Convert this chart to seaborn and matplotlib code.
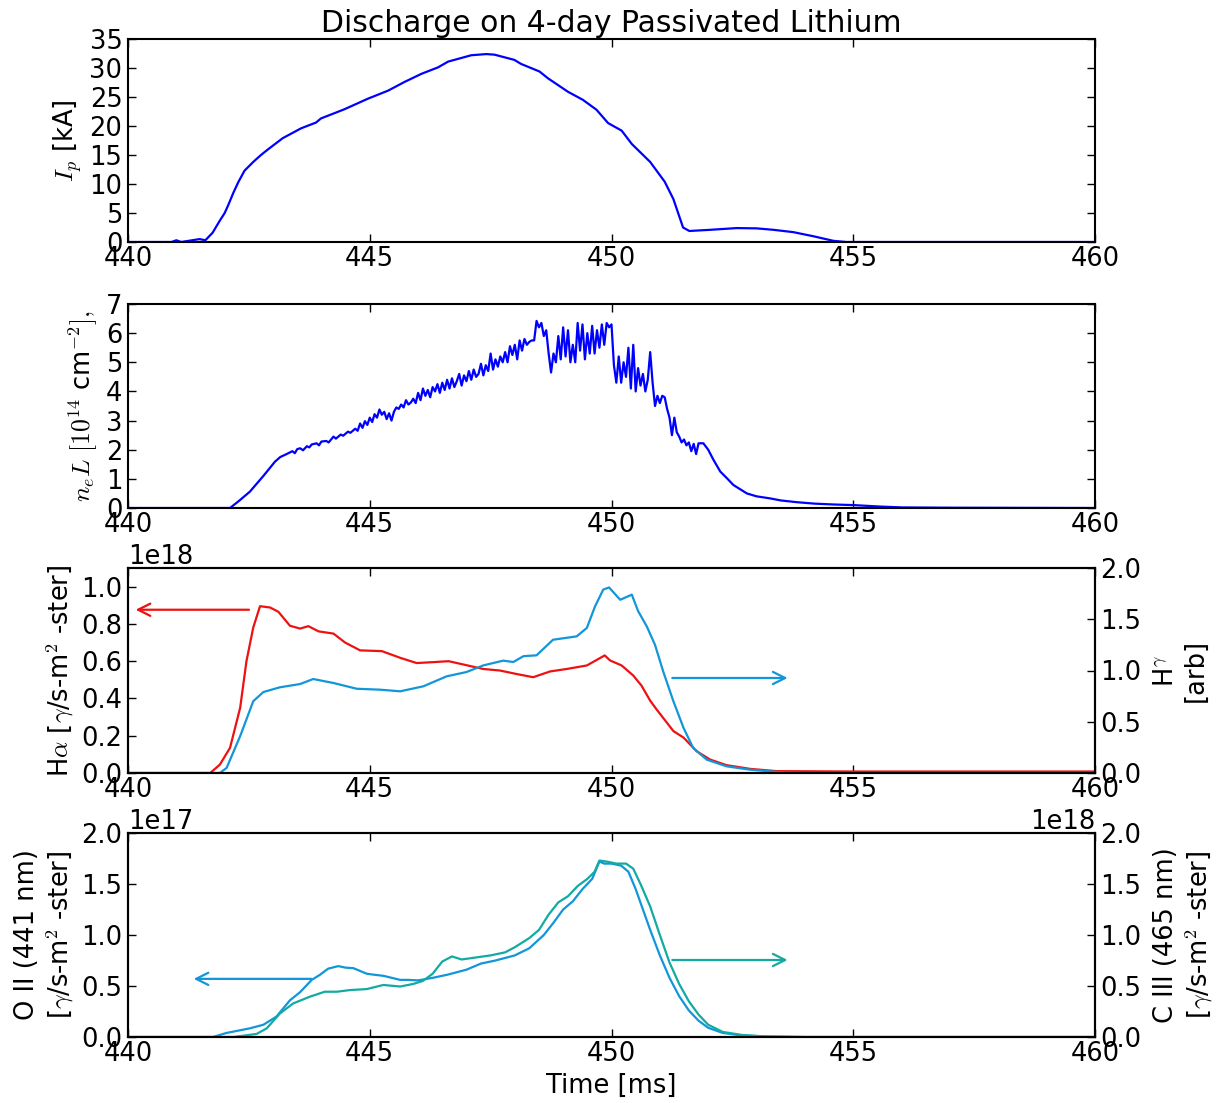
import numpy as np
import pandas as pd
import matplotlib
matplotlib.use("Agg")
import matplotlib.pyplot as plt
import seaborn as sns

# ---------------- data ----------------
t_ip = [440.0, 440.9, 441.0, 441.1, 441.48, 441.6, 441.75, 441.9, 442.0, 442.07, 442.18, 442.28,
        442.41, 442.59, 442.75, 442.9, 443.2, 443.58, 443.89, 443.99, 444.48, 444.96, 445.38,
        445.72, 446.07, 446.41, 446.62, 447.1, 447.41, 447.58, 447.99, 448.13, 448.51, 448.69,
        449.1, 449.41, 449.69, 449.93, 450.21, 450.42, 450.8, 451.1, 451.28, 451.48, 451.61,
        452.04, 452.59, 453.0, 453.35, 453.76, 454.17, 454.59, 454.86, 460.0]
ip = [0.0, 0.0, 0.3, 0.0, 0.5, 0.3, 1.6, 3.7, 5.0, 6.3, 8.5, 10.3,
      12.3, 13.8, 15.0, 16.0, 17.9, 19.6, 20.6, 21.3, 22.9, 24.7, 26.1,
      27.6, 29.0, 30.1, 31.1, 32.2, 32.4, 32.3, 31.4, 30.7, 29.4, 28.2,
      25.9, 24.5, 22.8, 20.5, 19.2, 16.9, 13.8, 10.4, 7.4, 2.5, 1.9,
      2.1, 2.4, 2.35, 2.1, 1.7, 1.0, 0.2, 0.0, 0.0]

t_ne = [440.0, 442.11, 442.3, 442.52, 442.8, 443.04, 443.15, 443.28, 443.4, 443.45, 443.5, 443.56,
        443.62, 443.7, 443.75, 443.8, 443.9, 443.95, 444.0, 444.1, 444.15, 444.25, 444.3, 444.4,
        444.45, 444.55, 444.6, 444.7, 444.75, 444.8, 444.85, 444.9, 444.95, 445.0, 445.05, 445.1,
        445.15, 445.2, 445.25, 445.3, 445.35, 445.4, 445.45, 445.5, 445.55, 445.6, 445.65, 445.7,
        445.75, 445.8, 445.85, 445.9, 445.95, 446.0, 446.05, 446.1, 446.15, 446.2, 446.25, 446.3,
        446.35, 446.4, 446.45, 446.5, 446.55, 446.6, 446.65, 446.7, 446.75, 446.8, 446.85, 446.9,
        446.95, 447.0, 447.05, 447.1, 447.15, 447.2, 447.25, 447.3, 447.35, 447.4, 447.45, 447.5,
        447.55, 447.6, 447.65, 447.7, 447.75, 447.8, 447.85, 447.9, 447.95, 448.0, 448.05, 448.1,
        448.15, 448.2, 448.25, 448.3, 448.35, 448.4, 448.45, 448.5, 448.55, 448.6, 448.65, 448.7,
        448.75, 448.8, 448.85, 448.9, 448.95, 449.0, 449.05, 449.1, 449.15, 449.2, 449.25, 449.3,
        449.35, 449.4, 449.45, 449.5, 449.55, 449.6, 449.65, 449.7, 449.75, 449.8, 449.85, 449.9,
        449.95, 450.0, 450.05, 450.1, 450.15, 450.2, 450.25, 450.3, 450.35, 450.4, 450.45, 450.5,
        450.55, 450.6, 450.65, 450.7, 450.75, 450.8, 450.85, 450.9, 450.95, 451.0, 451.05, 451.1,
        451.15, 451.2, 451.25, 451.3, 451.35, 451.4, 451.45, 451.5, 451.55, 451.6, 451.65, 451.7,
        451.75, 451.8, 451.9, 452.0, 452.11, 452.25, 452.4, 452.52, 452.8, 453.0, 453.28, 453.5,
        453.83, 454.2, 454.6, 455.0, 455.55, 456.0, 457.0, 460.0]
ne = [0.0, 0.0, 0.25, 0.56, 1.1, 1.59, 1.75, 1.85, 1.95, 1.88, 2.02, 2.05,
      1.98, 2.12, 2.08, 2.18, 2.22, 2.15, 2.28, 2.3, 2.25, 2.45, 2.38, 2.52,
      2.48, 2.62, 2.58, 2.72, 2.65, 2.9, 2.75, 2.98, 2.85, 3.1, 2.95, 3.22,
      3.1, 3.38, 3.2, 3.3, 3.05, 3.25, 3.0, 3.3, 3.45, 3.4, 3.55, 3.45,
      3.7, 3.55, 3.62, 3.75, 3.6, 3.95, 3.7, 4.1, 3.85, 4.05, 3.8, 4.15,
      4.0, 4.25, 3.95, 4.3, 4.05, 4.4, 4.1, 4.45, 4.15, 4.35, 4.6, 4.2,
      4.55, 4.35, 4.7, 4.4, 4.75, 4.5, 4.6, 4.95, 4.55, 4.9, 4.7, 5.3,
      4.75, 5.1, 4.85, 5.2, 5.0, 5.35, 5.0, 5.55, 5.25, 5.6, 5.1, 5.75,
      5.4, 5.8, 5.6, 5.7, 5.75, 5.75, 6.42, 6.2, 6.35, 5.9, 6.1, 5.3,
      4.65, 5.3, 5.0, 5.9, 5.1, 6.2, 5.2, 6.1, 5.0, 5.6, 5.0, 6.35,
      5.4, 6.3, 5.1, 6.0, 5.3, 6.25, 5.3, 6.1, 5.5, 6.3, 5.6, 6.35,
      6.2, 6.3, 4.9, 4.3, 5.2, 4.3, 5.0, 4.5, 5.5, 4.1, 5.6, 4.0,
      4.8, 4.2, 4.6, 4.0, 4.4, 5.35, 4.3, 3.5, 3.85, 3.6, 3.85, 3.8,
      3.4, 3.1, 2.5, 3.1, 2.6, 2.45, 2.25, 2.35, 2.15, 2.25, 1.95, 2.2,
      1.85, 2.22, 2.22, 2.0, 1.65, 1.25, 1.0, 0.79, 0.5, 0.4, 0.33, 0.26,
      0.2, 0.15, 0.12, 0.1, 0.05, 0.02, 0.01, 0.0]

t_ha = [440.0, 441.7, 441.9, 442.11, 442.32, 442.45, 442.59, 442.73, 442.94, 443.11, 443.35,
        443.56, 443.73, 443.94, 444.25, 444.49, 444.8, 445.25, 445.63, 445.97, 446.32, 446.63,
        446.94, 447.35, 447.69, 448.04, 448.38, 448.73, 449.07, 449.49, 449.86, 449.97, 450.21,
        450.45, 450.62, 450.8, 450.93, 451.28, 451.49, 451.76, 452.04, 452.38, 452.87, 453.42,
        455.0, 460.0]
ha = [0.0, 0.0, 0.045, 0.135, 0.35, 0.60, 0.78, 0.895, 0.888, 0.865, 0.79,
      0.775, 0.788, 0.76, 0.748, 0.70, 0.658, 0.654, 0.618, 0.59, 0.595, 0.60,
      0.582, 0.558, 0.55, 0.531, 0.514, 0.545, 0.558, 0.577, 0.631, 0.604, 0.577,
      0.523, 0.469, 0.388, 0.342, 0.225, 0.19, 0.117, 0.072, 0.042, 0.022, 0.01,
      0.008, 0.008]

t_hg = [440.0, 441.9, 442.04, 442.32, 442.59, 442.8, 443.14, 443.56, 443.83, 444.25, 444.73,
        445.21, 445.63, 446.11, 446.59, 447.0, 447.35, 447.76, 447.97, 448.18, 448.45, 448.79,
        449.28, 449.49, 449.66, 449.83, 449.95, 450.18, 450.42, 450.55, 450.73, 450.9, 451.07,
        451.28, 451.49, 451.69, 451.97, 452.38, 452.87, 453.56, 454.0, 460.0]
hg = [0.0, 0.0, 0.05, 0.36, 0.70, 0.79, 0.836, 0.868, 0.917, 0.878, 0.822,
      0.813, 0.797, 0.846, 0.943, 0.985, 1.05, 1.096, 1.083, 1.14, 1.148, 1.30,
      1.333, 1.415, 1.626, 1.79, 1.81, 1.69, 1.74, 1.58, 1.43, 1.25, 0.99,
      0.70, 0.44, 0.244, 0.13, 0.065, 0.032, 0.005, 0.0, 0.0]

t_o2 = [440.0, 441.76, 442.04, 442.52, 442.8, 443.07, 443.35, 443.56, 443.8, 443.97, 444.14,
        444.35, 444.5, 444.66, 444.94, 445.1, 445.28, 445.63, 445.8, 446.0, 446.3, 446.6,
        447.0, 447.3, 447.6, 448.0, 448.3, 448.6, 448.8, 449.0, 449.2, 449.4, 449.6, 449.75,
        449.85, 450.0, 450.2, 450.35, 450.5, 450.65, 450.8, 451.0, 451.2, 451.4, 451.6, 451.8,
        452.0, 452.3, 452.7, 453.2, 454.0, 460.0]
o2 = [0.0, 0.0, 0.04, 0.085, 0.12, 0.2, 0.36, 0.44, 0.56, 0.61, 0.67,
      0.695, 0.68, 0.675, 0.62, 0.61, 0.60, 0.56, 0.56, 0.555, 0.58, 0.61,
      0.66, 0.72, 0.75, 0.80, 0.87, 1.0, 1.12, 1.25, 1.33, 1.45, 1.55, 1.72,
      1.70, 1.70, 1.68, 1.62, 1.45, 1.25, 1.05, 0.8, 0.58, 0.4, 0.26, 0.16,
      0.09, 0.04, 0.015, 0.005, 0.0, 0.0]

t_c3 = [440.0, 442.18, 442.66, 442.87, 443.14, 443.42, 443.76, 444.07, 444.32, 444.59, 444.94,
        445.28, 445.63, 445.9, 446.1, 446.3, 446.5, 446.7, 446.9, 447.2, 447.5, 447.8,
        448.0, 448.3, 448.5, 448.7, 448.9, 449.1, 449.3, 449.5, 449.65, 449.75, 449.9, 450.1,
        450.3, 450.45, 450.6, 450.8, 451.0, 451.2, 451.4, 451.6, 451.8, 452.0, 452.3, 452.7,
        453.2, 454.0, 460.0]
c3 = [0.0, 0.0, 0.03, 0.085, 0.23, 0.33, 0.395, 0.444, 0.444, 0.46, 0.47,
      0.51, 0.495, 0.52, 0.55, 0.62, 0.74, 0.79, 0.76, 0.78, 0.80, 0.83,
      0.88, 0.97, 1.05, 1.2, 1.32, 1.38, 1.48, 1.55, 1.62, 1.73, 1.72, 1.70,
      1.70, 1.65, 1.5, 1.28, 1.0, 0.73, 0.52, 0.35, 0.22, 0.12, 0.05, 0.02,
      0.005, 0.0, 0.0]

x_ticks = [440, 445, 450, 455, 460]

# ---------------- style ----------------
sns.set_theme(style="white")
FS = 18.5
plt.rcParams.update({
    "font.family": ["DejaVu Sans"],
    "mathtext.fontset": "cm",
    "font.size": FS,
    "axes.linewidth": 1.5,
    "axes.edgecolor": "black",
    "xtick.direction": "in",
    "ytick.direction": "in",
    "xtick.major.size": 6,
    "ytick.major.size": 6,
    "xtick.major.width": 1.0,
    "ytick.major.width": 1.0,
    "xtick.major.pad": 3,
    "ytick.major.pad": 4,
    "xtick.labelsize": FS,
    "ytick.labelsize": FS,
    "axes.labelsize": FS,
    "xtick.color": "black",
    "ytick.color": "black",
    "text.color": "black",
    "axes.labelcolor": "black",
})

C_BLUE = "#0000ff"
C_RED = "#ee1111"
C_LBLUE = "#1196d9"
C_TEAL = "#12aaa2"
LW = 1.6

W, H = 1218, 1103
fig = plt.figure(figsize=(W / 100, H / 100), dpi=100)
L, R = 128 / W, 1095 / W
def pos(top, bot):
    return [L, 1 - bot / H, R - L, (bot - top) / H]

ax1 = fig.add_axes(pos(39, 242))
ax2 = fig.add_axes(pos(304, 508))
ax3 = fig.add_axes(pos(568, 773))
ax4 = fig.add_axes(pos(833, 1037))

def line(ax, x, y, c):
    sns.lineplot(x=np.asarray(x), y=np.asarray(y), ax=ax, color=c, lw=LW, estimator=None, sort=False)

line(ax1, t_ip, ip, C_BLUE)
line(ax2, t_ne, ne, C_BLUE)
line(ax3, t_ha, np.asarray(ha) * 1e18, C_RED)
ax3b = ax3.twinx()
line(ax3b, t_hg, hg, C_LBLUE)
line(ax4, t_o2, np.asarray(o2) * 1e17, C_LBLUE)
ax4b = ax4.twinx()
line(ax4b, t_c3, np.asarray(c3) * 1e18, C_TEAL)

for ax in (ax1, ax2, ax3, ax4, ax3b, ax4b):
    ax.set_xlim(440, 460)
    ax.set_xticks(x_ticks)
    ax.set_xlabel("")
for ax in (ax1, ax2):
    ax.tick_params(top=True, right=True, bottom=True, left=True)
for ax in (ax3, ax4):
    ax.tick_params(top=True, bottom=True, left=True, right=False)
for ax in (ax3b, ax4b):
    ax.tick_params(right=True, left=False, top=False, bottom=False)

ax1.set_ylim(0, 35)
ax1.set_yticks(range(0, 36, 5))
ax1.set_ylabel(r"$I_p$ [kA]")

ax2.set_ylim(0, 7)
ax2.set_yticks(range(0, 8))
ax2.set_ylabel(r"$n_e L\ [10^{14}$ cm$^{-2}],$")

ax3.set_ylim(0, 1.1e18)
ax3.set_yticks([0, 0.2e18, 0.4e18, 0.6e18, 0.8e18, 1.0e18])
ax3.set_ylabel(r"H$\alpha$ [$\gamma$/s-m$^2$ -ster]")
ax3b.set_ylim(0, 2.0)
ax3b.set_yticks([0, 0.5, 1.0, 1.5, 2.0])
ax3b.set_ylabel("H$^{\\gamma}$\n[arb]", rotation=90, labelpad=8)

ax4.set_ylim(0, 2.0e17)
ax4.set_yticks([0, 0.5e17, 1.0e17, 1.5e17, 2.0e17])
ax4.set_ylabel("O II (441 nm)\n" + r"[$\gamma$/s-m$^2$ -ster]")
ax4b.set_ylim(0, 2.0e18)
ax4b.set_yticks([0, 0.5e18, 1.0e18, 1.5e18, 2.0e18])
ax4b.set_ylabel("C III (465 nm)\n" + r"[$\gamma$/s-m$^2$ -ster]", rotation=90, labelpad=8)
ax4.set_xlabel("Time [ms]")

for ax in (ax3b, ax4b):
    ax.yaxis.set_label_position("right")

ax1.set_title("Discharge on 4-day Passivated Lithium", fontsize=21.5, pad=5)

arrow = lambda c: dict(arrowstyle="->", color=c, lw=1.6, mutation_scale=22)
ax3.annotate("", xy=(440.1, 0.876e18), xytext=(442.56, 0.876e18), arrowprops=arrow(C_RED))
ax3b.annotate("", xy=(453.7, 0.927), xytext=(451.2, 0.927), arrowprops=arrow(C_LBLUE))
ax4.annotate("", xy=(441.3, 0.57e17), xytext=(443.85, 0.57e17), arrowprops=arrow(C_LBLUE))
ax4b.annotate("", xy=(453.7, 0.755e18), xytext=(451.2, 0.755e18), arrowprops=arrow(C_TEAL))

fig.savefig("out.png", dpi=100)
